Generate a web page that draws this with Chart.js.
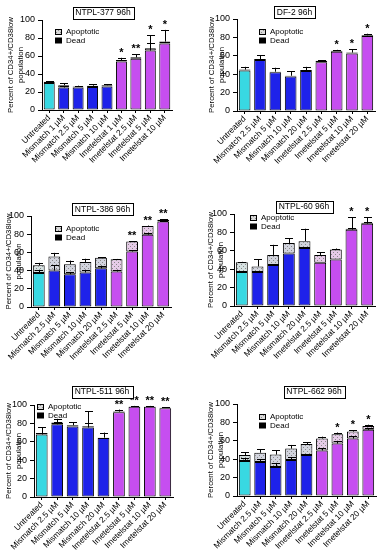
<!DOCTYPE html>
<html><head><meta charset="utf-8">
<script src="https://cdn.jsdelivr.net/npm/chart.js@4.4.0/dist/chart.umd.min.js"></script>
<style>
html,body{margin:0;padding:0;background:#fff;width:378px;height:550px;overflow:hidden}
canvas{position:absolute;display:block}
</style></head><body>
<canvas id="c1" width="189" height="180" style="left:0;top:0"></canvas>
<canvas id="c2" width="189" height="180" style="left:189px;top:0"></canvas>
<canvas id="c3" width="189" height="185" style="left:0;top:180px"></canvas>
<canvas id="c4" width="189" height="185" style="left:189px;top:180px"></canvas>
<canvas id="c5" width="189" height="185" style="left:0;top:365px"></canvas>
<canvas id="c6" width="189" height="185" style="left:189px;top:365px"></canvas>
<script>
// ---- data ----
const yTicks = [0, 20, 40, 60, 80, 100];
const groups = ['u','m','m','m','m','i','i','i','i'];

const labels1 = ["Untreated","Mismatch 1 µM","Mismatch 2.5 µM","Mismatch 5 µM","Mismatch 10 µM","Imetelstat 1 µM","Imetelstat 2.5 µM","Imetelstat 5 µM","Imetelstat 10 µM"];
const labels2 = ["Untreated","Mismatch 2.5 µM","Mismatch 5 µM","Mismatch 10 µM","Mismatch 20 µM","Imetelstat 2.5 µM","Imetelstat 5 µM","Imetelstat 10 µM","Imetelstat 20 µM"];

// NTPL-377 96h
const dead1    = [30, 25, 25, 25.5, 26, 54, 57, 66, 74];
const apop1    = [1.5, 2.5, 1, 1.5, 1.5, 1.5, 1.5, 2.5, 2];
const errTop1  = [32, 29.5, 27, 28.5, 28.5, 58, 62, 83, 89];
const errDead1 = [null, 26.5, null, null, null, null, null, 74, null];
const stars1   = ["","","","","","*","**","*","*"];

// DF-2 96h
const dead2    = [44, 55.5, 42, 37.5, 43.5, 53, 64.5, 62.5, 81.5];
const apop2    = [1, 1, 0.7, 0.8, 1, 1.5, 1, 1, 0.8];
const errTop2  = [48, 60.5, 47, 43, 48, 55, 66.5, 67, 84];
const errDead2 = [null, null, null, null, null, null, null, null, null];
const stars2   = ["","","","","","","*","*","*"];

// NTPL-386 96h
const dead3    = [37.5, 40, 36, 38, 42.5, 39, 61, 79.5, 94];
const apop3    = [8.3, 15.5, 11, 11.5, 11.5, 13.5, 11, 9.5, 2];
const errTop3  = [48.5, 59.5, 51, 53, 54.5, 52.8, 72.5, 89.5, 96.5];
const errDead3 = [41, 46, 38, 41, 45.5, 41, 62.5, 81.5, 95];
const stars3   = ["","","","","","","**","**","**"];

// NTPL-60 96h
const dead4    = [37, 37, 44.5, 57, 63, 47, 50.5, 83, 89.5];
const apop4    = [10.5, 6, 11, 11.5, 7.5, 8.5, 11, 1, 1];
const errTop4  = [48, 51, 66.5, 73.5, 84, 58.5, 62.5, 96.5, 96.5];
const errDead4 = [null, 38, null, null, null, null, null, 85, 91];
const stars4   = ["","","","","","","","*","*"];

// NTPL-511 96h
const dead5    = [68, 79, 76.5, 75.5, 64, 92, 98, 98, 96.5];
const apop5    = [1.5, 2, 1.5, 1.5, 0.5, 0.8, 0.5, 0.5, 0.5];
const errTop5  = [76, 85, 81, 93, 70, 95, 99, 99, 97.5];
const errDead5 = [70, 81, null, 80, null, null, null, null, null];
const stars5   = ["","","","","","**","**","**","**"];

// NTPL-662 96h
const dead6    = [38, 37, 31.5, 39, 44.5, 49.5, 57, 62.5, 72];
const apop6    = [6.5, 10, 13.5, 12.5, 12, 13, 10, 7.5, 4];
const errTop6  = [47.5, 51, 49.5, 55.5, 58.5, 64.5, 69, 71.5, 77.5];
const errDead6 = [41, 40, 36, 42, 45, 52, 60, 65, 74];
const stars6   = ["","","","","","","*","*","*"];

// ---- styling ----
const FONT = '"Liberation Sans", Arial, Helvetica, sans-serif';
const barColor = {u:'#38d8e2', m:'#1e22ea', i:'#c64ef0'};
const apopBase = {u:'#d6e2e2', m:'#d2d4de', i:'#e6cbe8'};

function makePattern(base){
  const c = document.createElement('canvas'); c.width = 4; c.height = 4;
  const g = c.getContext('2d');
  g.fillStyle = base; g.fillRect(0,0,4,4);
  g.fillStyle = '#8a8a8a';
  g.fillRect(0,0,1,1); g.fillRect(2,2,1,1);
  return g.createPattern(c,'repeat');
}
const patterns = {u:makePattern(apopBase.u), m:makePattern(apopBase.m), i:makePattern(apopBase.i)};
const legendPattern = makePattern('#d8d8d8');

const panels = [
  {id:'c1', title:'NTPL-377 96h', labels:labels1, dead:dead1, apop:apop1, errTop:errTop1, errDead:errDead1, stars:stars1,
   L:{left:42, right:172, top:20, bottom:110, tPad:5.5, tx:103, ty:12.5, lx:55, ly:29}},
  {id:'c2', title:'DF-2 96h', labels:labels2, dead:dead2, apop:apop2, errTop:errTop2, errDead:errDead2, stars:stars2,
   L:{left:48, right:186, top:19, bottom:111, tPad:17.5, tx:105.5, ty:12, lx:70, ly:29}},
  {id:'c3', title:'NTPL-386 96h', labels:labels2, dead:dead3, apop:apop3, errTop:errTop3, errDead:errDead3, stars:stars3,
   L:{left:31, right:171, top:36, bottom:127, tPad:3.5, tx:102.5, ty:29, lx:55, ly:46}},
  {id:'c4', title:'NTPL-60 96h', labels:labels2, dead:dead4, apop:apop4, errTop:errTop4, errDead:errDead4, stars:stars4,
   L:{left:45, right:186, top:34, bottom:126, tPad:16.5, tx:115, ty:26.5, lx:61, ly:35}},
  {id:'c5', title:'NTPL-511 96h', labels:labels2, dead:dead5, apop:apop5, errTop:errTop5, errDead:errDead5, stars:stars5,
   L:{left:34, right:173, top:40, bottom:132, tPad:3.5, tx:102, ty:26.5, lx:37, ly:39}},
  {id:'c6', title:'NTPL-662 96h', labels:labels2, dead:dead6, apop:apop6, errTop:errTop6, errDead:errDead6, stars:stars6,
   L:{left:48, right:187, top:39, bottom:131, tPad:16.5, tx:125, ty:26.5, lx:70, ly:49}}
];

const extras = {
  id:'extras',
  afterDatasetsDraw(chart, args, opts){
    const p = opts.panel, L = p.L, ctx = chart.ctx;
    const y = chart.scales.y;
    const meta = chart.getDatasetMeta(0);
    ctx.save();
    ctx.strokeStyle = '#000'; ctx.lineWidth = 1;
    const cap = 3.5;
    function vbar(x, y0, y1){
      ctx.beginPath();
      ctx.moveTo(Math.round(x)+0.5, y0); ctx.lineTo(Math.round(x)+0.5, y1);
      ctx.moveTo(Math.round(x-cap), Math.round(y1)+0.5); ctx.lineTo(Math.round(x+cap)+1, Math.round(y1)+0.5);
      ctx.stroke();
    }
    p.dead.forEach((d,i)=>{
      const x = meta.data[i].x;
      const tot = d + p.apop[i];
      if (p.errTop[i] != null) vbar(x, y.getPixelForValue(tot), y.getPixelForValue(p.errTop[i]));
      if (p.errDead[i] != null) vbar(x, y.getPixelForValue(d), y.getPixelForValue(p.errDead[i]));
      if (p.stars[i]) {
        ctx.fillStyle = '#000';
        ctx.font = 'bold 11px ' + FONT;
        ctx.textAlign = 'center'; ctx.textBaseline = 'alphabetic';
        const top = Math.min(y.getPixelForValue(p.errTop[i] ?? tot), y.getPixelForValue(tot));
        ctx.fillText(p.stars[i], x, top - 2);
      }
    });
    // title box
    ctx.font = '8.5px ' + FONT;
    ctx.textAlign = 'center'; ctx.textBaseline = 'middle';
    const tw = ctx.measureText(p.title).width;
    const bw = Math.round(tw + 6), bh = 12;
    const bx = Math.round(L.tx - bw/2), by = Math.round(L.ty - bh/2);
    ctx.fillStyle = '#fff'; ctx.fillRect(bx, by, bw, bh);
    ctx.strokeRect(bx+0.5, by+0.5, bw, bh);
    ctx.fillStyle = '#000'; ctx.fillText(p.title, L.tx, L.ty + 0.5);
    // legend
    ctx.font = '8px ' + FONT; ctx.textAlign = 'left'; ctx.textBaseline = 'middle';
    ctx.fillStyle = legendPattern; ctx.fillRect(L.lx, L.ly, 7, 6);
    ctx.strokeRect(L.lx+0.5, L.ly+0.5, 6, 5);
    ctx.fillStyle = '#000'; ctx.fillText('Apoptotic', L.lx + 11, L.ly + 3);
    ctx.fillRect(L.lx, L.ly + 8.5, 7, 6);
    ctx.fillText('Dead', L.lx + 11, L.ly + 11.5);
    ctx.restore();
  }
};

panels.forEach(p=>{
  const cv = document.getElementById(p.id);
  const W = cv.width, H = cv.height, L = p.L;
  new Chart(cv.getContext('2d'), {
    type:'bar',
    data:{
      labels:p.labels,
      datasets:[
        {label:'Dead', data:p.dead, backgroundColor:groups.map(g=>barColor[g]), borderColor:'#000', borderWidth:1, borderSkipped:false, barPercentage:0.76, categoryPercentage:1},
        {label:'Apoptotic', data:p.apop, backgroundColor:groups.map(g=>patterns[g]), borderColor:'#000', borderWidth:1, borderSkipped:false, barPercentage:0.76, categoryPercentage:1}
      ]
    },
    options:{
      responsive:false, animation:false, devicePixelRatio:1,
      layout:{padding:{left:0, right:W - L.right, top:L.top, bottom:0}},
      plugins:{legend:{display:false}, tooltip:{enabled:false}, title:{display:false}, extras:{panel:p}},
      scales:{
        x:{stacked:true,
           grid:{display:true, drawOnChartArea:false, drawTicks:true, tickLength:3, color:'#000', offset:false},
           border:{display:true, color:'#000', width:1},
           ticks:{color:'#000', font:{family:FONT, size:8.3}, minRotation:45, maxRotation:45, autoSkip:false, padding:0},
           afterFit(s){ s.height = H - L.bottom; s.paddingLeft = 0; s.paddingRight = 0; }},
        y:{stacked:true, min:0, max:100,
           afterBuildTicks(s){ s.ticks = yTicks.map(v=>({value:v})); },
           ticks:{color:'#000', font:{family:FONT, size:9}, padding:3},
           grid:{display:true, drawOnChartArea:false, drawTicks:true, tickLength:4, color:'#000'},
           border:{display:true, color:'#000', width:1},
           title:{display:true, text:['Percent of CD34+/CD38low','population'], color:'#000', font:{family:FONT, size:7.8, lineHeight:1.35}, padding:{top:L.tPad, bottom:0}},
           afterFit(s){ s.width = L.left; s.paddingTop = 0; s.paddingBottom = 0; }}
      }
    },
    plugins:[extras]
  });
});
</script>
</body></html>
